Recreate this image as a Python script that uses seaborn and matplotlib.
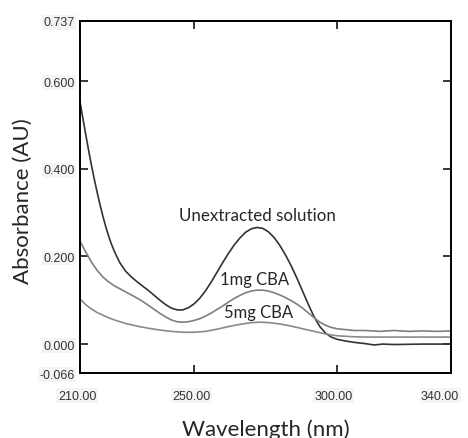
import numpy as np
import pandas as pd
import matplotlib
matplotlib.use("Agg")
import matplotlib.pyplot as plt
import matplotlib.transforms as mtransforms
import seaborn as sns

# ---------------- data ----------------
wl_unext = [210, 211, 212, 213, 214, 215, 216, 217, 218, 219, 220, 221, 222, 223, 224,
            226, 228, 230, 232, 234, 236, 238, 240, 242, 244, 246, 248, 250, 252, 254,
            256, 258, 260, 262, 264, 266, 268, 270, 272, 274, 276, 278, 280, 282, 284,
            286, 288, 290, 292, 294, 296, 298, 300, 303, 306, 310, 313, 316, 320, 330, 340]
abs_unext = [0.552, 0.515, 0.478, 0.442, 0.408, 0.376, 0.346, 0.318, 0.292, 0.268, 0.247,
             0.228, 0.212, 0.198, 0.185, 0.166, 0.153, 0.142, 0.132, 0.122, 0.111, 0.100,
             0.090, 0.082, 0.078, 0.078, 0.083, 0.092, 0.105, 0.122, 0.142, 0.164, 0.186,
             0.207, 0.226, 0.242, 0.255, 0.263, 0.266, 0.264, 0.256, 0.243, 0.225, 0.203,
             0.178, 0.150, 0.120, 0.090, 0.062, 0.040, 0.025, 0.016, 0.011, 0.007, 0.004,
             0.001, -0.002, 0.000, -0.001, 0.000, 0.000]

wl_1mg = [210, 212, 214, 216, 218, 220, 222, 224, 226, 228, 230, 232, 234, 236, 238, 240,
          242, 244, 246, 248, 250, 252, 254, 256, 258, 260, 262, 264, 266, 268, 270, 272,
          274, 276, 278, 280, 282, 284, 286, 288, 290, 292, 294, 296, 298, 300, 303, 306,
          310, 315, 320, 325, 330, 335, 340]
abs_1mg = [0.235, 0.210, 0.187, 0.168, 0.153, 0.142, 0.133, 0.126, 0.119, 0.112, 0.105,
           0.097, 0.088, 0.079, 0.070, 0.062, 0.055, 0.051, 0.050, 0.051, 0.054, 0.058,
           0.064, 0.071, 0.079, 0.087, 0.096, 0.104, 0.111, 0.117, 0.121, 0.123, 0.123,
           0.121, 0.117, 0.112, 0.106, 0.099, 0.091, 0.082, 0.071, 0.060, 0.050, 0.043,
           0.038, 0.035, 0.033, 0.031, 0.031, 0.029, 0.031, 0.029, 0.030, 0.029, 0.030]

wl_5mg = [210, 212, 214, 216, 218, 220, 223, 226, 230, 234, 238, 242, 246, 250, 254, 258,
          262, 266, 270, 273, 276, 280, 284, 288, 292, 296, 300, 305, 310, 340]
abs_5mg = [0.103, 0.090, 0.080, 0.072, 0.066, 0.060, 0.053, 0.047, 0.041, 0.036, 0.032,
           0.029, 0.027, 0.027, 0.029, 0.034, 0.040, 0.045, 0.049, 0.050, 0.049, 0.046,
           0.041, 0.035, 0.029, 0.023, 0.019, 0.017, 0.016, 0.016]

x_ticks = [210, 250, 300, 340]
x_labels = ["210.00", "250.00", "300.00", "340.00"]
y_ticks = [-0.066, 0.0, 0.2, 0.4, 0.6, 0.737]
y_labels = ["-0.066", "0.000", "0.200", "0.400", "0.600", "0.737"]

# ---------------- plot ----------------
sns.set_style("ticks")
plt.rcParams['font.family'] = ['Liberation Sans', 'DejaVu Sans']

fig = plt.figure(figsize=(4.68, 4.39), dpi=100)
ax = fig.add_axes([0.171, 0.148, 0.793, 0.802])

sns.lineplot(x=wl_unext, y=abs_unext, ax=ax, color="#333333", linewidth=1.2)
sns.lineplot(x=wl_1mg, y=abs_1mg, ax=ax, color="#7f7f7f", linewidth=1.2)
sns.lineplot(x=wl_5mg, y=abs_5mg, ax=ax, color="#8a8a8a", linewidth=1.2)

ax.set_xlim(210, 340)
ax.set_ylim(-0.066, 0.737)
ax.set_xticks(x_ticks)
ax.set_xticklabels(x_labels)
ax.set_yticks(y_ticks)
ax.set_yticklabels(y_labels)
ax.tick_params(axis="both", direction="in", length=6, width=1.3,
               labelsize=9, labelcolor="#333333",
               top=True, right=True)
ax.tick_params(axis="x", pad=12)
ax.tick_params(axis="y", pad=4)
for lbl in ax.get_xticklabels() + ax.get_yticklabels():
    lbl.set_bbox(dict(facecolor="#f5f5f5", edgecolor="none", pad=1))

# x tick labels sit a little left of their ticks; the last one is pulled in to fit
xlbls = ax.get_xticklabels()
for lbl in xlbls[:-1]:
    lbl.set_transform(lbl.get_transform() +
                      mtransforms.ScaledTranslation(-0.03, 0, fig.dpi_scale_trans))
xlbls[-1].set_horizontalalignment("right")
xlbls[-1].set_transform(xlbls[-1].get_transform() +
                        mtransforms.ScaledTranslation(0.08, 0, fig.dpi_scale_trans))

for sp in ax.spines.values():
    sp.set_linewidth(1.4)
    sp.set_color("black")

ax.set_xlabel("Wavelength (nm)", fontsize=16, family="Lato")
ax.xaxis.label.set_va("center")
ax.xaxis.set_label_coords(0.5, -0.158)
ax.set_ylabel("Absorbance (AU)", fontsize=16, family="Lato")
ax.yaxis.label.set_va("center")
ax.yaxis.set_label_coords(-0.154, 0.491)

ax.text(272, 0.2945, "Unextracted solution", ha="center", va="center",
        fontsize=12.2, family="Lato")
ax.text(271.3, 0.148, "1mg CBA", ha="center", va="center", fontsize=12, family="Lato")
ax.text(272.4, 0.073, "5mg CBA", ha="center", va="center", fontsize=12, family="Lato")

fig.savefig("out.png", dpi=100)
